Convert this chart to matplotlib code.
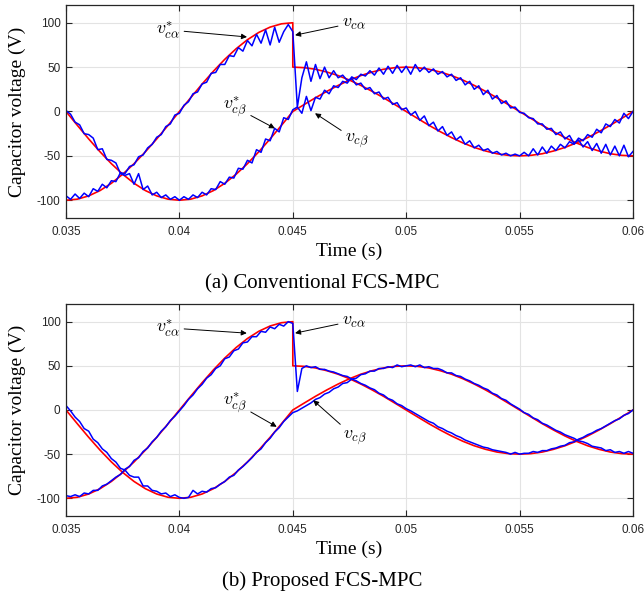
import numpy as np
import matplotlib
matplotlib.use("Agg")
import matplotlib.pyplot as plt

plt.rcParams['mathtext.fontset'] = 'cm'
plt.rcParams['axes.unicode_minus'] = False

# reference voltages (red), every 0.5 ms, step change at t = 0.045 s
t_ref = np.concatenate([np.linspace(0.035, 0.045, 21), np.linspace(0.045, 0.06, 31)])
ref_alpha = [-100, -98.8, -95.1, -89.1, -80.9, -70.7, -58.8, -45.4, -30.9, -15.6, 0,
             15.6, 30.9, 45.4, 58.8, 70.7, 80.9, 89.1, 95.1, 98.8, 100,
             50, 49.4, 47.6, 44.5, 40.5, 35.4, 29.4, 22.7, 15.5, 7.8, 0,
             -7.8, -15.5, -22.7, -29.4, -35.4, -40.5, -44.5, -47.6, -49.4, -50,
             -49.4, -47.6, -44.5, -40.5, -35.4, -29.4, -22.7, -15.5, -7.8, 0]
ref_beta = [0, -15.6, -30.9, -45.4, -58.8, -70.7, -80.9, -89.1, -95.1, -98.8, -100,
            -98.8, -95.1, -89.1, -80.9, -70.7, -58.8, -45.4, -30.9, -15.6, 0,
            0, 7.8, 15.5, 22.7, 29.4, 35.4, 40.5, 44.5, 47.6, 49.4, 50,
            49.4, 47.6, 44.5, 40.5, 35.4, 29.4, 22.7, 15.5, 7.8, 0,
            -7.8, -15.5, -22.7, -29.4, -35.4, -40.5, -44.5, -47.6, -49.4, -50]

# measured capacitor voltages (blue), every 0.2 ms
t_meas = np.linspace(0.035, 0.06, 126)
conv_alpha = [-95, -99, -93, -98, -92, -96, -87, -90, -82, -86,
              -78, -79, -69, -70, -62, -60, -51, -49, -41, -37,
              -29, -26, -17, -14, -4, -2, 7, 11, 20, 22,
              31, 33, 43, 44, 53, 53, 63, 62, 72, 68,
              80, 74, 87, 77, 92, 75, 95, 78, 90, 98,
              90, 5, 38, 56, 34, 53, 37, 50, 38, 46,
              38, 41, 35, 37, 30, 32, 25, 27, 20, 22,
              14, 16, 8, 10, 2, 4, -4, 0, -10, -5,
              -16, -12, -22, -17, -27, -23, -32, -28, -37, -33,
              -41, -38, -44, -42, -47, -45, -49, -47, -50, -48,
              -50, -46, -50, -42, -49, -40, -47, -39, -44, -37,
              -41, -34, -37, -30, -33, -26, -29, -20, -24, -14,
              -17, -9, -13, -2, -8, 0]
conv_beta = [1, -3, -12, -15, -25, -26, -30, -43, -42, -54,
             -55, -58, -70, -72, -70, -82, -70, -88, -84, -94,
             -91, -97, -94, -99, -96, -100, -96, -99, -94, -97,
             -91, -94, -87, -88, -79, -82, -74, -75, -64, -65,
             -55, -58, -43, -46, -31, -33, -19, -23, -7, -9,
             2, 5, -2, 17, 1, 16, 14, 24, 20, 29,
             27, 34, 32, 39, 36, 42, 40, 46, 41, 49,
             42, 51, 43, 52, 44, 51, 42, 53, 45, 50,
             44, 48, 42, 45, 39, 42, 35, 38, 30, 34,
             25, 29, 19, 24, 14, 18, 9, 12, 4, 5,
             -1, -2, -7, -8, -14, -14, -20, -19, -26, -23,
             -31, -27, -36, -32, -40, -34, -44, -36, -47, -37,
             -49, -39, -50, -38, -51, -45]
prop_alpha = [-97, -98, -96, -98, -94, -95, -91, -91, -86, -84,
              -80, -76, -73, -67, -64, -57, -54, -47, -43, -36,
              -31, -24, -19, -12, -7, -1, 5, 12, 17, 24,
              29, 36, 40, 47, 50, 58, 60, 67, 69, 76,
              77, 83, 83, 89, 88, 94, 92, 97, 95, 100,
              98, 21, 47, 50, 48, 49, 46, 46, 44, 43,
              41, 39, 38, 35, 33, 30, 28, 25, 23, 19,
              17, 13, 11, 7, 5, 1.5, -1, -4, -7, -10,
              -13, -15, -19, -21, -24, -26, -29, -31, -34, -36,
              -38, -40, -42, -43, -45, -46, -47, -48, -50, -48,
              -50, -49, -49, -47, -48, -46, -46, -44, -43, -41,
              -40, -37, -36, -33, -31, -28, -26, -23, -21, -18,
              -15, -12, -10, -6, -4, 0]
prop_beta = [5, -1, -8, -13, -21, -24, -33, -37, -44, -48,
             -55, -59, -66, -68, -74, -76, -76, -86, -86, -91,
             -92, -95, -94, -98, -96, -99, -100, -99, -91, -95,
             -92, -93, -89, -88, -84, -81, -76, -74, -68, -64,
             -59, -54, -48, -44, -37, -32, -25, -20, -13, -8,
             -3, -1, 2, 5, 8, 12, 14, 18, 20, 24,
             26, 30, 31, 35, 36, 40, 41, 44, 44, 47,
             47, 49, 48, 51, 49, 50, 51, 49, 51, 48,
             49, 47, 47, 45, 42, 42, 39, 38, 35, 33,
             30, 28, 25, 23, 19, 17, 13, 11, 7, 4,
             1, -3, -5, -9, -11, -15, -17, -20, -23, -25,
             -28, -30, -32, -35, -36, -38, -41, -42, -43, -46,
             -45, -48, -47, -49, -47, -49]

x_ticks = [0.035, 0.04, 0.045, 0.05, 0.055, 0.06]
x_tick_labels = ['0.035', '0.04', '0.045', '0.05', '0.055', '0.06']
y_ticks = [-100, -50, 0, 50, 100]
y_tick_labels = ['-100', '-50', '0', '50', '100']
captions = ['(a) Conventional FCS-MPC', '(b) Proposed FCS-MPC']
labels = [r'$v_{c\alpha}^{*}$', r'$v_{c\alpha}$', r'$v_{c\beta}^{*}$', r'$v_{c\beta}$']

# (text position, arrow tip) for each label, per panel
notes_top = [((0.0395, 92), (0.04298, 84)), ((0.0477, 100), (0.0451, 86)),
             ((0.04245, 5), (0.04421, -19)), ((0.04783, -33), (0.04598, -2))]
notes_bot = [((0.0395, 93), (0.04297, 87)), ((0.0477, 101), (0.0451, 87)),
             ((0.04245, 8), (0.04429, -19)), ((0.04774, -31), (0.0459, 11))]

serif = 'Liberation Serif'
axcol = '#262626'

fig = plt.figure(figsize=(6.44, 6.04), dpi=100)
ax_top = fig.add_axes([0.1025, 0.6391, 0.8804, 0.3526])
ax_bot = fig.add_axes([0.1025, 0.1457, 0.8804, 0.351])

panels = [(ax_top, conv_alpha, conv_beta, notes_top),
          (ax_bot, prop_alpha, prop_beta, notes_bot)]

for ax, va, vb, notes in panels:
    ax.plot(t_ref, ref_alpha, color='red', lw=1.2)
    ax.plot(t_ref, ref_beta, color='red', lw=1.2)
    ax.plot(t_meas, va, color='blue', lw=1.1)
    ax.plot(t_meas, vb, color='blue', lw=1.1)

    ax.set_xlim(0.035, 0.06)
    ax.set_ylim(-120, 120)
    ax.set_xticks(x_ticks)
    ax.set_xticklabels(x_tick_labels, family='Liberation Sans', fontsize=8.5, color=axcol)
    ax.set_yticks(y_ticks)
    ax.set_yticklabels(y_tick_labels, family='Liberation Sans', fontsize=8.5, color=axcol)
    ax.tick_params(direction='in', length=4, width=0.8, color=axcol,
                   top=True, right=True)
    ax.tick_params(axis='x', pad=6)
    ax.tick_params(axis='y', pad=4)
    ax.grid(True, color='#e3e3e3', lw=0.8)
    ax.set_axisbelow(True)
    for s in ax.spines.values():
        s.set_color(axcol)
        s.set_linewidth(0.9)

    ax.set_xlabel('Time (s)', family=serif, fontsize=14)
    ax.xaxis.set_label_coords(0.5, -0.115)
    ax.set_ylabel('Capacitor voltage (V)', family=serif, fontsize=14)
    ax.yaxis.set_label_coords(-0.07, 0.5)

    for lab, (txt, tip) in zip(labels, notes):
        ax.annotate(lab, xy=tip, xytext=txt, ha='center', va='center', fontsize=13,
                    arrowprops=dict(arrowstyle='-|>', color='black', lw=0.7,
                                    mutation_scale=8, shrinkA=1, shrinkB=0))

fig.text(0.5, 1 - 284 / 604, captions[0], ha='center', va='center', family=serif, fontsize=15)
fig.text(0.5, 1 - 581 / 604, captions[1], ha='center', va='center', family=serif, fontsize=15)

fig.savefig('out.png', dpi=100)
